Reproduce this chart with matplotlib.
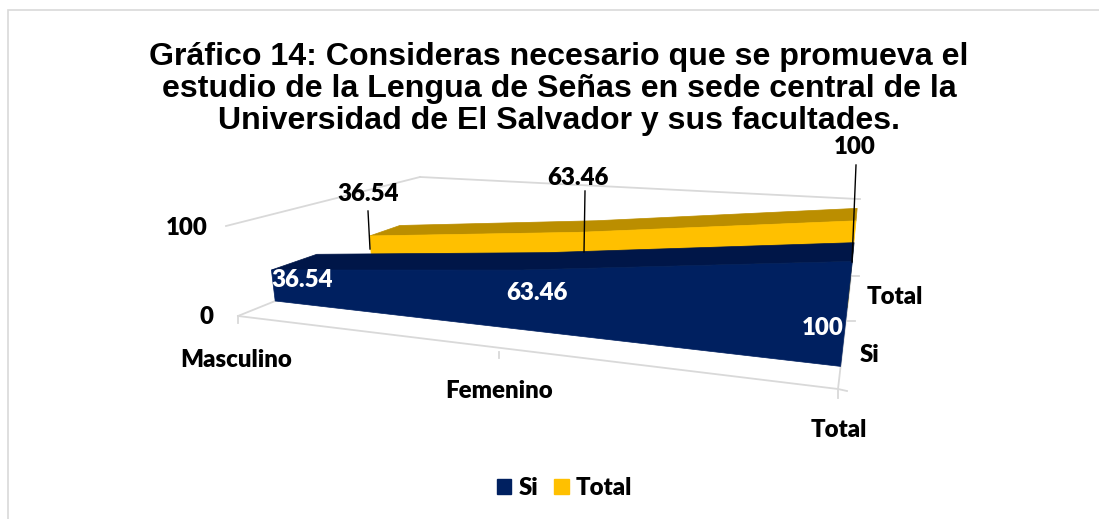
import matplotlib
matplotlib.use('Agg')
import matplotlib.pyplot as plt
from matplotlib.patches import Polygon, Patch, Rectangle

categorias = ['Masculino', 'Femenino', 'Total']
series = ['Si', 'Total']
si = [36.54, 63.46, 100]
total = [36.54, 63.46, 100]
ticks_valor = [0, 100]

titulo = ('Gráfico 14: Consideras necesario que se promueva el\n'
          'estudio de la Lengua de Señas en sede central de la\n'
          'Universidad de El Salvador y sus facultades.')

# esquinas de la caja 3D en pixeles (frente/fondo, izquierda/derecha)
FL, FR = (238, 316), (838, 389)
BL, BR = (424, 241), (851, 276)
TFL, TFR = (226, 226), (851, 277)
TBL, TBR = (420, 177), (858, 199)
K = 1.3  # perspectiva a lo largo del eje de categorias


def lerp(a, b, f):
    return (a[0] + (b[0] - a[0]) * f, a[1] + (b[1] - a[1]) * f)


def proy(t, d, v):
    s = t / (t + K * (1 - t))
    abajo = lerp(lerp(FL, FR, s), lerp(BL, BR, s), d)
    arriba = lerp(lerp(TFL, TFR, s), lerp(TBL, TBR, s), d)
    return lerp(abajo, arriba, v / 100)


def area3d(ax, valores, d0, d1, color, color_top):
    ts = [i / (len(valores) - 1) for i in range(len(valores))]
    frente = [proy(t, d0, v) for t, v in zip(ts, valores)]
    fondo = [proy(t, d1, v) for t, v in zip(ts, valores)]
    base = [proy(t, d0, 0) for t in ts]
    ax.add_patch(Polygon(frente + fondo[::-1], closed=True, fc=color_top, ec=color_top, lw=0.5, zorder=2))
    ax.add_patch(Polygon(frente + base[::-1], closed=True, fc=color, ec=color, lw=0.5, zorder=2))


fig = plt.figure(figsize=(10.99, 5.19), dpi=100)
ax = fig.add_axes([0, 0, 1, 1])
ax.set_xlim(0, 1099)
ax.set_ylim(519, 0)
ax.axis('off')

ax.add_patch(Rectangle((8, 10), 1100, 520, fc='white', ec='#D9D9D9', lw=1.2, zorder=0))

# lineas de la caja
gris = '#D9D9D9'
for a, b in [(FL, FR), (FL, BL), (TFL, TBL), (TBL, TBR), (FR, BR),
             (FL, (238, 323)), ((499, 352), (499, 358)), (FR, (838, 398)),
             (FR, (847, 391)), ((846, 321), (855, 321)), (BR, (859, 276)), (TBR, (860, 199))]:
    ax.plot([a[0], b[0]], [a[1], b[1]], color=gris, lw=1.3, zorder=1)

# series
area3d(ax, total, 0.72, 0.88, '#FFC000', '#BB8E00')
area3d(ax, si, 0.20, 0.44, '#002060', '#001648')

fuente = ['Lato', 'DejaVu Sans']
tam = 17.3
ax.text(559, 89, titulo, ha='center', va='center', family='Liberation Sans', weight='bold',
        fontsize=23.1, linespacing=1.1, color='black', zorder=6)

# etiquetas de ejes
for lab, xy in zip(categorias, [(236, 360), (499, 391), (839, 430)]):
    ax.text(xy[0], xy[1], lab, ha='center', va='center', family=fuente, weight='heavy', fontsize=tam)
for lab, xy in zip(series, [(870, 355), (895, 297)]):
    ax.text(xy[0], xy[1], lab, ha='center', va='center', family=fuente, weight='heavy', fontsize=tam)
for v, xy in zip(ticks_valor, [(207, 317), (187, 228)]):
    ax.text(xy[0], xy[1], str(v), ha='center', va='center', family=fuente, weight='heavy', fontsize=tam)

# etiquetas de datos
pos_si = [(302, 280), (537, 293), (823, 328)]
pos_total = [(368, 194), (578, 178), (855, 147)]
lider = [((368, 211), (370, 249)), ((585, 191), (584, 252)), ((856, 165), (852, 262))]
for v, xy in zip(si, pos_si):
    ax.text(xy[0], xy[1], f'{v:g}', ha='center', va='center', family=fuente, weight='heavy',
            fontsize=tam, color='white', zorder=5)
for v, xy, li in zip(total, pos_total, lider):
    ax.text(xy[0], xy[1], f'{v:g}', ha='center', va='center', family=fuente, weight='heavy',
            fontsize=tam, color='black', zorder=7)
    ax.plot([li[0][0], li[1][0]], [li[0][1], li[1][1]], color='black', lw=1, zorder=5)

handles = [Patch(color='#002060', label=series[0]), Patch(color='#FFC000', label=series[1])]
ax.legend(handles=handles, loc='center', bbox_to_anchor=(564.5 / 1099, 1 - 488 / 519), ncol=2,
          frameon=False, handlelength=0.62, handleheight=0.62, handletextpad=0.3, columnspacing=0.65,
          prop={'family': fuente, 'weight': 'heavy', 'size': tam})

fig.savefig('out.png', dpi=100)
